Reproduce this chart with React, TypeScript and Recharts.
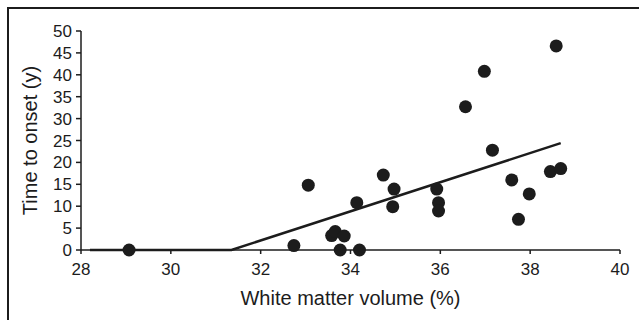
import { Label, Scatter, ScatterChart, XAxis, YAxis } from "recharts";

const volume = [
  29.07, 32.74, 33.06, 33.58, 33.66, 33.86, 33.77, 34.2, 34.14, 34.73, 34.97,
  34.94, 35.92, 35.96, 35.96, 36.56, 36.98, 37.16, 37.59, 37.74, 37.98, 38.45,
  38.58, 38.68,
];
const onset = [
  0, 1, 14.8, 3.3, 4.2, 3.2, 0, 0, 10.8, 17.1, 13.9, 9.9, 13.9, 10.8, 8.9, 32.7,
  40.8, 22.8, 16, 7, 12.8, 17.9, 46.6, 18.6,
];

// regression line, floored at zero
const fitX = [28.2, 31.35, 38.68];
const fitY = [0, 0, 24.4];

const xTicks = [28, 30, 32, 34, 36, 38, 40];
const yTicks = [0, 5, 10, 15, 20, 25, 30, 35, 40, 45, 50];

const points = volume.map((v, i) => ({ x: v, y: onset[i] }));
const fit = fitX.map((v, i) => ({ x: v, y: fitY[i] }));

const ink = "#1c1c1c";
const font = "'Liberation Sans', Arial, sans-serif";

const Dot = (p: any) => <circle cx={p.cx} cy={p.cy} r={6.5} fill={ink} />;

export default function App() {
  return (
    <div
      style={{
        position: "absolute",
        left: 0,
        top: 0,
        width: 639,
        height: 320,
        background: "#fff",
        fontFamily: font,
      }}
    >
      <div
        style={{
          position: "absolute",
          left: 7,
          top: 7,
          width: 640,
          height: 320,
          borderLeft: `2px solid ${ink}`,
          borderTop: `2px solid ${ink}`,
        }}
      />
      <ScatterChart
        width={639}
        height={320}
        margin={{ top: 31, right: 19, bottom: 10, left: 0 }}
        style={{ position: "absolute", left: 0, top: 0 }}
      >
        <XAxis
          type="number"
          dataKey="x"
          domain={[28, 40]}
          ticks={xTicks}
          interval={0}
          height={60}
          stroke={ink}
          strokeWidth={1.5}
          tickSize={4}
          tickMargin={9}
          tick={{ fill: ink, fontSize: 17, fontFamily: font }}
        >
          <Label
            value="White matter volume (%)"
            position="insideBottom"
            offset={5}
            style={{ fill: ink, fontSize: 20, fontFamily: font }}
          />
        </XAxis>
        <YAxis
          type="number"
          dataKey="y"
          domain={[0, 50]}
          ticks={yTicks}
          interval={0}
          width={81}
          stroke={ink}
          strokeWidth={1.5}
          tickSize={5}
          tickMargin={4}
          tick={{ fill: ink, fontSize: 17, fontFamily: font }}
        >
          <Label
            value="Time to onset (y)"
            angle={-90}
            position="insideLeft"
            offset={30}
            style={{
              fill: ink,
              fontSize: 20,
              fontFamily: font,
              textAnchor: "middle",
            }}
          />
        </YAxis>
        <Scatter
          data={fit}
          line={{ stroke: ink, strokeWidth: 2.5 }}
          shape={() => null}
          isAnimationActive={false}
        />
        <Scatter data={points} shape={Dot} isAnimationActive={false} />
      </ScatterChart>
    </div>
  );
}
